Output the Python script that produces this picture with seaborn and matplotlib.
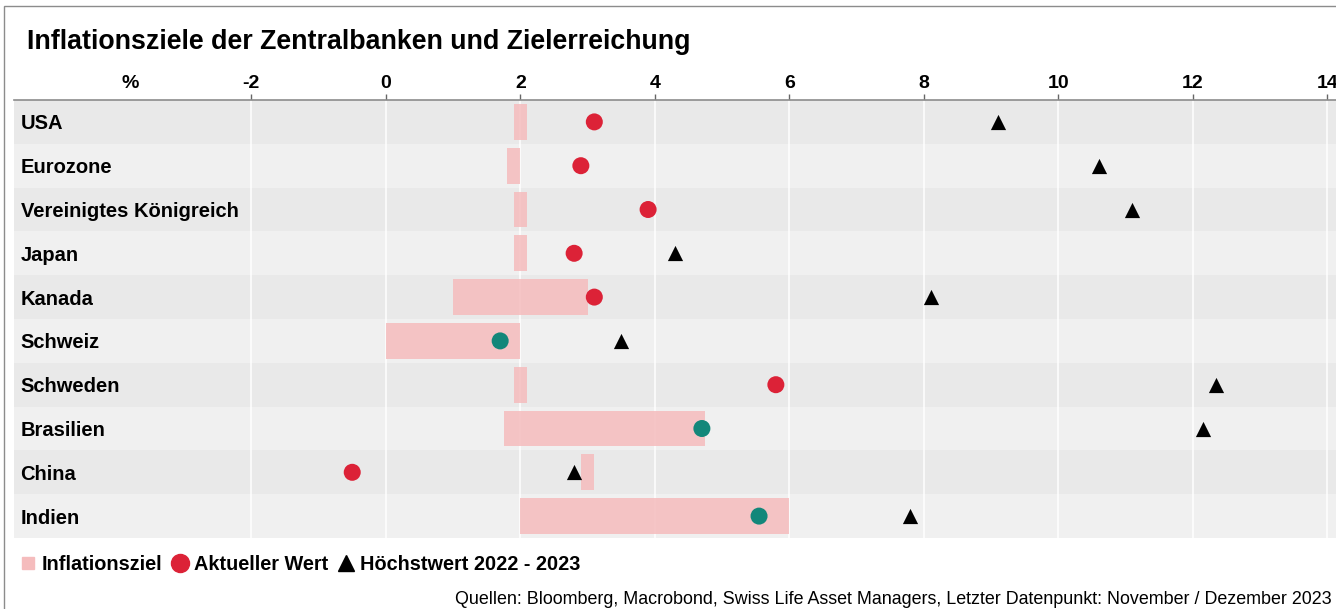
import numpy as np
import pandas as pd
import matplotlib.pyplot as plt
import matplotlib.transforms as mtransforms
from matplotlib.patches import Rectangle
from matplotlib.lines import Line2D
import seaborn as sns

# data
countries = ['USA', 'Eurozone', 'Vereinigtes Königreich', 'Japan', 'Kanada',
             'Schweiz', 'Schweden', 'Brasilien', 'China', 'Indien']
target_low = [1.9, 1.8, 1.9, 1.9, 1.0, 0.0, 1.9, 1.75, 2.9, 2.0]
target_high = [2.1, 2.0, 2.1, 2.1, 3.0, 2.0, 2.1, 4.75, 3.1, 6.0]
current = [3.1, 2.9, 3.9, 2.8, 3.1, 1.7, 5.8, 4.7, -0.5, 5.55]
peak = [9.1, 10.6, 11.1, 4.3, 8.1, 3.5, 12.35, 12.15, 2.8, 7.8]
ticks = [-2, 0, 2, 4, 6, 8, 10, 12, 14]

df = pd.DataFrame({'Land': countries, 'low': target_low, 'high': target_high,
                   'Aktuell': current, 'Hoechst': peak})
df['pos'] = np.arange(len(df))
df['im_ziel'] = (df['Aktuell'] >= df['low']) & (df['Aktuell'] <= df['high'])

sns.set_theme(style='white')
plt.rcParams['font.family'] = ['Liberation Sans', 'DejaVu Sans']
plt.rcParams['text.color'] = 'black'
plt.rcParams['xtick.color'] = 'black'

red = '#dc2237'
teal = '#13877a'
pink = '#f5bcbd'

fig = plt.figure(figsize=(13.36, 6.09), dpi=100)
ax = fig.add_axes([14 / 1336, 1 - 538 / 609, 1 - 14 / 1336, (538 - 100) / 609])

# alternating row shading
for i in range(len(df)):
    ax.axhspan(i - 0.5, i + 0.5, color='#e9e9e9' if i % 2 == 0 else '#f0f0f0', zorder=0, lw=0)

for t in ticks:
    ax.axvline(t, color='white', lw=1.1, zorder=1)

ax.barh(df['pos'], df['high'] - df['low'], left=df['low'], height=0.82,
        color=pink, alpha=0.85, zorder=2, lw=0)

sns.scatterplot(data=df, x='Aktuell', y='pos', hue='im_ziel',
                palette={True: teal, False: red}, s=150, linewidth=0,
                legend=False, zorder=4, ax=ax)
sns.scatterplot(data=df, x='Hoechst', y='pos', marker='^', color='black',
                s=120, linewidth=0, legend=False, zorder=4, ax=ax)

ax.set_xlim(-5.53, 14.13)
ax.set_ylim(len(df) - 0.5, -0.5)
ax.set_xlabel('')
ax.set_ylabel('')
ax.set_yticks([])
ax.xaxis.tick_top()
ax.set_xticks(ticks)
ax.set_xticklabels([str(t) for t in ticks], fontsize=14, fontweight='bold', color='black')
ax.tick_params(axis='x', direction='out', length=4, width=1, color='#666666', pad=2)
for s in ['bottom', 'left', 'right']:
    ax.spines[s].set_visible(False)
ax.spines['top'].set_color('#8c8c8c')
ax.spines['top'].set_linewidth(1.2)

lab_tr = mtransforms.blended_transform_factory(ax.transAxes, ax.transData)
for i, name in enumerate(df['Land']):
    ax.text(0.005, i, name, transform=lab_tr, ha='left', va='center_baseline',
            fontsize=14.5, fontweight='bold', color='black', zorder=5)

fig.text(130 / 1336, 1 - 83 / 609, '%', ha='center', va='center', fontsize=14, fontweight='bold')

fig.text(27 / 1336, 1 - 39 / 609, 'Inflationsziele der Zentralbanken und Zielerreichung',
         ha='left', va='center_baseline', fontsize=19.3, fontweight='bold')

handles = [
    Line2D([], [], marker='s', ls='', color=pink, markersize=8),
    Line2D([], [], marker='o', ls='', color=red, markersize=13),
    Line2D([], [], marker='^', ls='', color='black', markersize=11),
]
labels = ['Inflationsziel', 'Aktueller Wert', 'Höchstwert 2022 - 2023']
fig.legend(handles, labels, loc='center left', bbox_to_anchor=(20 / 1336, 1 - 564 / 609),
           ncol=3, frameon=False, handlelength=0.8, handletextpad=0.3, columnspacing=0.5,
           borderpad=0, borderaxespad=0, prop={'size': 14.3, 'weight': 'bold'})

fig.text(1332 / 1336, 1 - 597 / 609,
         'Quellen: Bloomberg, Macrobond, Swiss Life Asset Managers, Letzter Datenpunkt: November / Dezember 2023',
         ha='right', va='center_baseline', fontsize=12.9)

fig.add_artist(Rectangle((4 / 1336, -0.1), 1.2, 1.1 - 6 / 609, fill=False,
                         ec='#8c8c8c', lw=1, transform=fig.transFigure))

fig.savefig('out.png', dpi=100)
